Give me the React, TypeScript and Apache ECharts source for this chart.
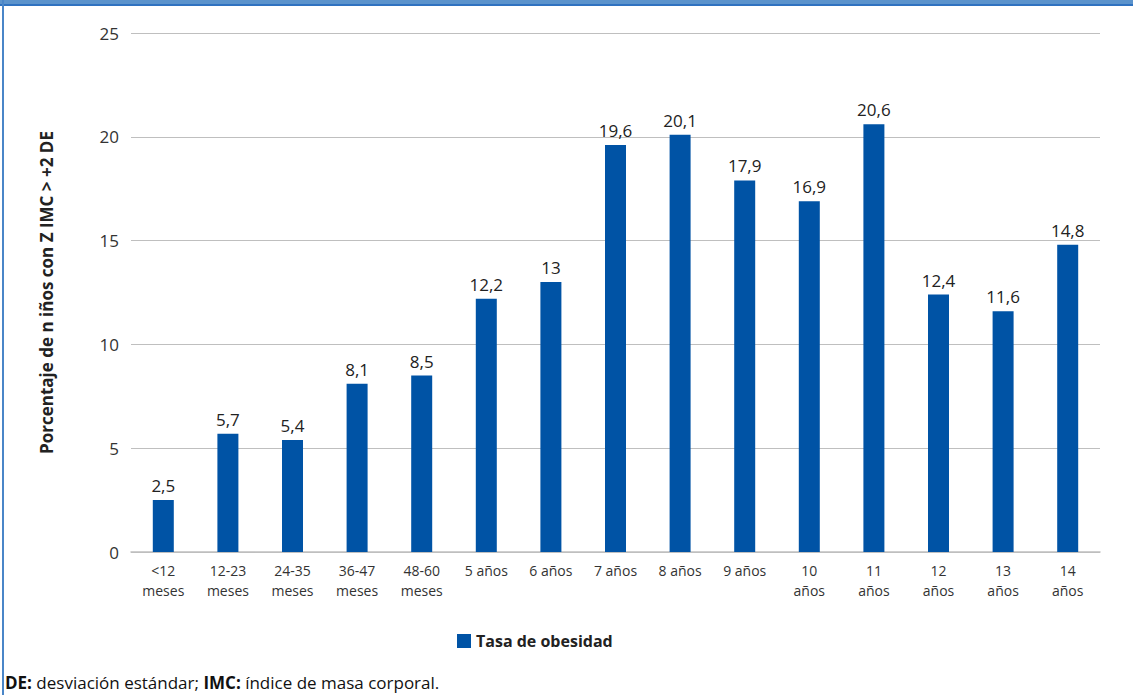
import React, { useEffect, useRef } from "react";
import * as echarts from "echarts";

const categories = [
  "<12\nmeses", "12-23\nmeses", "24-35\nmeses", "36-47\nmeses", "48-60\nmeses",
  "5 años", "6 años", "7 años", "8 años", "9 años",
  "10\naños", "11\naños", "12\naños", "13\naños", "14\naños",
];
const values = [2.5, 5.7, 5.4, 8.1, 8.5, 12.2, 13, 19.6, 20.1, 17.9, 16.9, 20.6, 12.4, 11.6, 14.8];
const seriesName = "Tasa de obesidad";
const yAxisTitle = "Porcentaje de n iños con Z IMC > +2 DE";

const FONT = "'Open Sans', 'Noto Sans', sans-serif";

export default function App() {
  const ref = useRef<HTMLDivElement>(null);
  useEffect(() => {
    const chart = echarts.init(ref.current!, null, { renderer: "svg" });
    chart.setOption({
      animation: false,
      backgroundColor: "#ffffff",
      textStyle: { fontFamily: FONT },
      grid: { left: 131, right: 33, top: 33, bottom: 143 },
      legend: {
        data: [seriesName],
        left: 452,
        top: 628,
        itemWidth: 14,
        itemHeight: 14,
        icon: "rect",
        itemGap: 6,
        textStyle: { fontFamily: FONT, fontSize: 16, fontWeight: "bold", color: "#222" },
      },
      xAxis: {
        type: "category",
        data: categories,
        axisLine: { lineStyle: { color: "#bfbfbf", width: 1.5 } },
        axisTick: { show: false },
        axisLabel: { fontFamily: FONT, fontSize: 14, color: "#333", lineHeight: 20, margin: 8, interval: 0 },
      },
      yAxis: {
        type: "value",
        min: 0,
        max: 25,
        interval: 5,
        name: yAxisTitle,
        nameLocation: "middle",
        nameGap: 76,
        nameTextStyle: { fontFamily: FONT, fontSize: 17, fontWeight: "bold", color: "#222" },
        axisLine: { show: false },
        axisTick: { show: false },
        axisLabel: { fontFamily: FONT, fontSize: 17, color: "#333", margin: 12 },
        splitLine: { lineStyle: { color: "#bfbfbf", width: 1.2 } },
      },
      series: [
        {
          name: seriesName,
          type: "bar",
          data: values,
          barWidth: 21,
          itemStyle: { color: "#0053a5" },
          label: {
            show: true,
            position: "top",
            distance: 6,
            fontFamily: FONT,
            fontSize: 17,
            color: "#222",
            formatter: (p: any) => String(p.value).replace(".", ","),
          },
        },
      ],
      graphic: [
        { type: "rect", shape: { x: 0, y: 0, width: 1133, height: 5 }, style: { fill: "#5b93cc" } },
        { type: "rect", shape: { x: 0, y: 4, width: 1133, height: 2 }, style: { fill: "#2f72c0" } },
        { type: "rect", shape: { x: 2, y: 0, width: 2, height: 695 }, style: { fill: "#4a86c8" } },
        {
          type: "text",
          left: 5,
          top: 674,
          style: {
            rich: {
              b: { fontFamily: FONT, fontSize: 17, fontWeight: "bold", fill: "#111" },
              n: { fontFamily: FONT, fontSize: 17, fill: "#111" },
            },
            text: "{b|DE:}{n| desviación estándar; }{b|IMC:}{n| índice de masa corporal.}",
          },
        },
      ],
    });
    return () => chart.dispose();
  }, []);
  return (
    <div
      ref={ref}
      style={{ position: "absolute", left: 0, top: 0, width: 1133, height: 695 }}
    />
  );
}
